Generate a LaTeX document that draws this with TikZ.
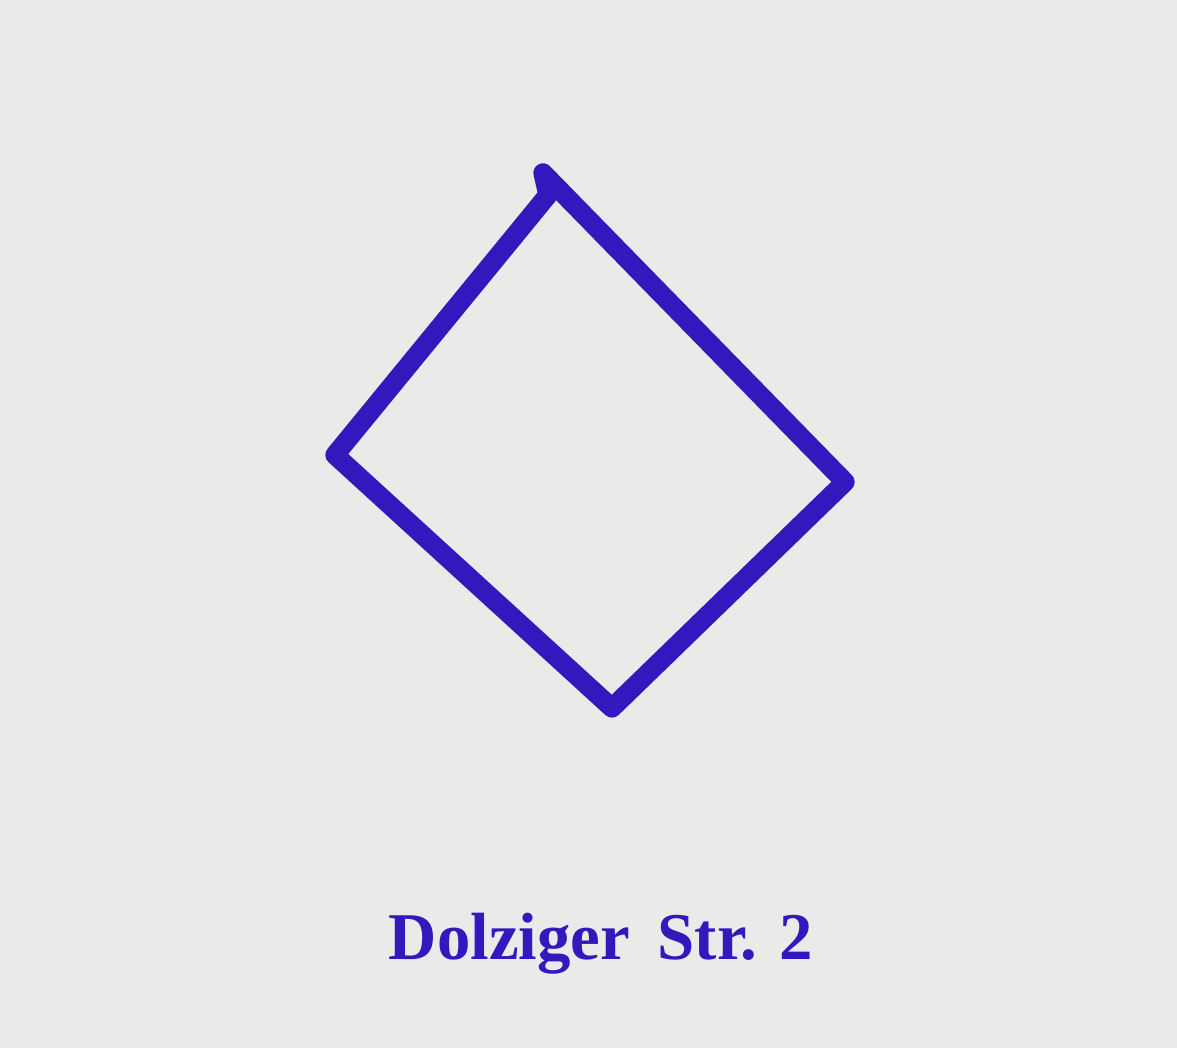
\documentclass[tikz,border=0pt]{standalone}
\usepackage{fontspec}
\setmainfont{Liberation Serif}
\usetikzlibrary{positioning, calc}
\definecolor{ink}{RGB}{52,24,190}
\definecolor{paper}{RGB}{234,234,233}
\tikzset{
    pen/.style={draw=ink, line width=11pt, line join=round, line cap=round},
    caption/.style={text=ink, font=\bfseries\fontsize{38}{42}\selectfont, inner sep=0pt},
}

\begin{document}
\begin{tikzpicture}
    \fill[paper] (0,0) rectangle (23.54,20.96);
    \useasboundingbox (0,0) rectangle (23.54,20.96);

    \coordinate (top) at (10.86,17.50);
    \coordinate (hook) at (10.96,17.06);
    \coordinate (left) at (6.70,11.86);
    \coordinate (bottom) at (12.24,6.80);
    \coordinate (right) at (16.90,11.32);

    \draw[pen] (left) -- (hook) -- (top) -- (right) -- (bottom) -- cycle;

    \node[caption, anchor=base] (label) at (12.02,1.76) {Dolziger\, Str. 2};
  \end{tikzpicture}
\end{document}
